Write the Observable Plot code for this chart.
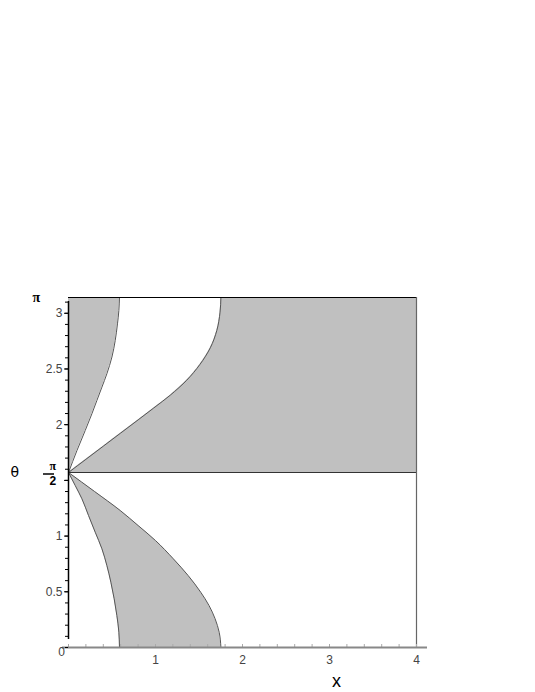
<!DOCTYPE html>
<html><head><meta charset="utf-8">
<script src="https://cdn.jsdelivr.net/npm/d3@7"></script>
<script src="https://cdn.jsdelivr.net/npm/@observablehq/plot@0.6"></script>
<style>body{margin:0;background:#fff}</style>
</head><body><div id="chart"></div>
<script>
// Domain
const xDomain = [0, 4];
const thetaDomain = [0, Math.PI];
const thetaMid = Math.PI / 2;

// Boundary curves (x, theta)
const upperLeftX = [0, 0.097, 0.192, 0.269, 0.326, 0.384, 0.441, 0.499, 0.537, 0.563, 0.579, 0.586];
const upperLeftT = [1.571, 1.768, 1.948, 2.098, 2.217, 2.337, 2.457, 2.607, 2.756, 2.905, 3.025, 3.142];

const upperRightX = [0, 0.2, 0.4, 0.6, 0.8, 0.98, 1.17, 1.36, 1.51, 1.63, 1.705, 1.742, 1.752];
const upperRightT = [1.571, 1.689, 1.807, 1.925, 2.043, 2.150, 2.265, 2.400, 2.540, 2.690, 2.846, 3.010, 3.142];

const lowerLeftX = [0, 0.077, 0.154, 0.230, 0.307, 0.384, 0.441, 0.487, 0.525, 0.556, 0.579, 0.586];
const lowerLeftT = [1.571, 1.454, 1.335, 1.185, 1.035, 0.886, 0.736, 0.586, 0.437, 0.287, 0.137, 0];

const lowerRightX = [0, 0.30, 0.594, 0.80, 1.00, 1.205, 1.375, 1.52, 1.615, 1.685, 1.732, 1.752];
const lowerRightT = [1.571, 1.400, 1.230, 1.095, 0.960, 0.796, 0.646, 0.496, 0.377, 0.258, 0.137, 0];

// Ticks
const xTickLabels = [1, 2, 3, 4];
const xMinorTicks = d3.range(0, 21).map(i => i * 0.2);
const yTickLabels = [0.5, 1, 2, 2.5, 3];
const yMajorTicks = [0.5, 1, 1.5, 2, 2.5, 3];
const yMinorTicks = d3.range(0, 32).map(i => i * 0.1);
const xLabelPos = 3.08;

const rows = (xs, ts) => xs.map((x, i) => ({x, t: ts[i]})).sort((a, b) => a.t - b.t);
const UL = rows(upperLeftX, upperLeftT);
const UR = rows(upperRightX, upperRightT);
const LL = rows(lowerLeftX, lowerLeftT);
const LR = rows(lowerRightX, lowerRightT);

const gray = "#c0c0c0";
const curve = "monotone-y";

const plot = Plot.plot({
  width: 535, height: 692,
  marginLeft: 68, marginRight: 119, marginTop: 297, marginBottom: 45,
  x: {domain: xDomain},
  y: {domain: thetaDomain},
  style: {fontFamily: "'Liberation Sans', Arial, sans-serif", fontSize: "12px", background: "white", overflow: "visible"},
  marks: [
    // upper half: gray, white wedge, gray left sliver
    Plot.rect([0], {x1: xDomain[0], x2: xDomain[1], y1: thetaMid, y2: thetaDomain[1], fill: gray}),
    Plot.areaX(UR, {y: "t", x1: 0, x2: "x", fill: "white", curve}),
    Plot.areaX(UL, {y: "t", x1: 0, x2: "x", fill: gray, curve}),
    // lower half: gray between curves
    Plot.areaX(LR, {y: "t", x1: 0, x2: "x", fill: gray, curve}),
    Plot.areaX(LL, {y: "t", x1: 0, x2: "x", fill: "white", curve}),
    // boundary curves
    Plot.line(UL, {x: "x", y: "t", stroke: "#555", strokeWidth: 1, curve}),
    Plot.line(UR, {x: "x", y: "t", stroke: "#555", strokeWidth: 1, curve}),
    Plot.line(LL, {x: "x", y: "t", stroke: "#555", strokeWidth: 1, curve}),
    Plot.line(LR, {x: "x", y: "t", stroke: "#555", strokeWidth: 1, curve}),
    // borders
    Plot.ruleY([thetaMid], {x1: xDomain[0], x2: xDomain[1], stroke: "#333", strokeWidth: 1}),
    Plot.ruleY([thetaDomain[1]], {x1: xDomain[0], x2: xDomain[1], stroke: "#000", strokeWidth: 1.2}),
    Plot.ruleX([xDomain[1]], {y1: thetaDomain[0], y2: thetaDomain[1], stroke: "#666", strokeWidth: 1.2}),
    // x axis
    Plot.ruleX(xMinorTicks, {y1: 0, y2: 0, insetTop: -3, stroke: "#aaa"}),
    Plot.ruleY([0], {x1: xDomain[0], x2: xDomain[1], insetLeft: -6, insetRight: -11, stroke: "#888", strokeWidth: 2}),
    Plot.axisX(xTickLabels, {tickSize: 0, tickPadding: 8, label: null, fill: "#444", fontSize: 12}),
    // y axis
    Plot.ruleX([0], {y1: thetaDomain[0], y2: thetaDomain[1], insetTop: -8, insetBottom: -4, stroke: "#000", strokeWidth: 1.5}),
    Plot.axisY(yMinorTicks, {tickSize: 3, text: null, label: null, stroke: "#000"}),
    Plot.axisY(yMajorTicks, {tickSize: 4, text: null, label: null, stroke: "#000"}),
    Plot.axisY(yTickLabels, {tickSize: 0, tickPadding: 6, label: null, fill: "#444", fontSize: 12, tickFormat: d => String(d)}),
    Plot.text([0], {x: 0, y: 0, text: d => "0", dx: -7, dy: 5, fill: "#444", fontSize: 12}),
    // special labels
    Plot.text(["π"], {frameAnchor: "left", y: thetaDomain[1], dx: -36, fontFamily: "'Liberation Serif', serif", fontWeight: "bold", fontSize: 14}),
    Plot.text(["π"], {frameAnchor: "left", y: thetaMid, dx: -19, dy: -6, fontFamily: "'Liberation Serif', serif", fontWeight: "bold", fontSize: 12}),
    Plot.ruleY([thetaMid], {x1: xDomain[0], x2: xDomain[0], insetLeft: -25, insetRight: 14, dy: 1.5, stroke: "#000", strokeWidth: 1.5}),
    Plot.text(["2"], {frameAnchor: "left", y: thetaMid, dx: -19, dy: 9, fontFamily: "'Liberation Sans', sans-serif", fontWeight: "bold", fontSize: 12}),
    Plot.text(["θ"], {frameAnchor: "left", y: thetaMid, dx: -58, fontFamily: "'DejaVu Sans', sans-serif", fontSize: 14}),
    Plot.text(["x"], {frameAnchor: "bottom", x: xLabelPos, dy: 39, fontFamily: "'Liberation Sans', sans-serif", fontSize: 18})
  ]
});
document.getElementById("chart").append(plot);
</script>
</body></html>
